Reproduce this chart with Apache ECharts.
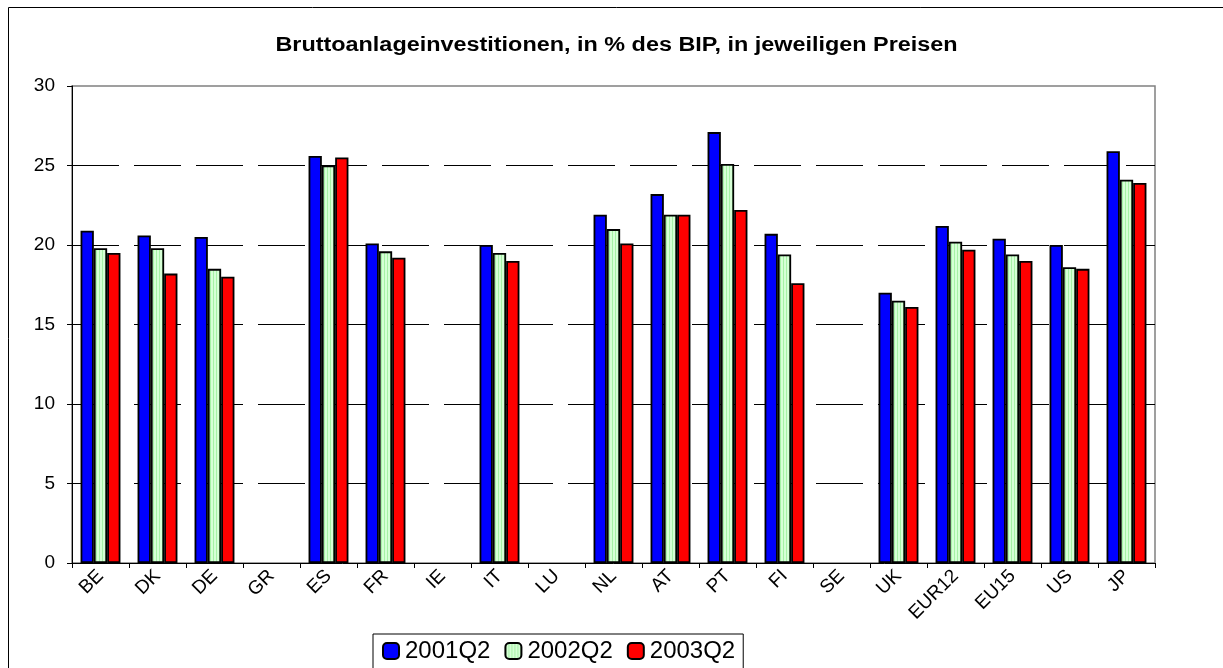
<!DOCTYPE html>
<html>
<head>
<meta charset="utf-8">
<script src="https://cdn.jsdelivr.net/npm/echarts@6/dist/echarts.min.js"></script>
<style>
html,body{margin:0;padding:0;background:#fff;}
#c{width:1223px;height:668px;}
</style>
</head>
<body>
<div id="c"></div>
<script>
const categories = ['BE','DK','DE','GR','ES','FR','IE','IT','LU','NL','AT','PT','FI','SE','UK','EUR12','EU15','US','JP'];
const seriesNames = ['2001Q2','2002Q2','2003Q2'];
const values2001 = [20.9,20.6,20.5,null,25.6,20.1,null,20.0,null,21.9,23.2,27.1,20.7,null,17.0,21.2,20.4,20.0,25.9];
const values2002 = [19.8,19.8,18.5,null,25.0,19.6,null,19.5,null,21.0,21.9,25.1,19.4,null,16.5,20.2,19.4,18.6,24.1];
const values2003 = [19.5,18.2,18.0,null,25.5,19.2,null,19.0,null,20.1,21.9,22.2,17.6,null,16.1,19.7,19.0,18.5,23.9];
const yTicks = [0,5,10,15,20,25,30];
const titleText = 'Bruttoanlageinvestitionen, in % des BIP, in jeweiligen Preisen';

// striped light-green pattern
const pc = document.createElement('canvas');
pc.width = 3; pc.height = 4;
const g = pc.getContext('2d');
g.fillStyle = '#d6ffd6'; g.fillRect(0,0,3,4);
g.fillStyle = '#a6f2a6'; g.fillRect(0,0,1,4);

const chart = echarts.init(document.getElementById('c'), null, {renderer:'canvas'});
const font = 'Arial, "Liberation Sans", sans-serif';
const barStyle = (c) => ({color:c, borderColor:'#000', borderWidth:1.8});

chart.setOption({
  backgroundColor:'#fff',
  animation:false,
  graphic:[
    {type:'rect', shape:{x:8.5,y:7.5,width:1400,height:800}, style:{fill:null, stroke:'#000', lineWidth:1}, silent:true, z:100},
    {type:'text', x:616.5, y:45, scaleX:1.17, scaleY:1, silent:true,
     style:{text:titleText, textAlign:'center', textVerticalAlign:'middle', fill:'#000',
            font:'bold 20px Arial, "Liberation Sans", sans-serif'}}
  ],
  legend:{
    left:373, top:634,
    data:seriesNames,
    itemWidth:16, itemHeight:16, itemGap:14,
    borderColor:'#000', borderWidth:1,
    padding:[5,8,6,9],
    textStyle:{fontFamily:font, fontSize:24, color:'#000', padding:[0,0,0,1]}
  },
  grid:{left:72, right:68, top:86, bottom:105, show:true, borderColor:'#808080', borderWidth:1.5},
  xAxis:{
    type:'category', data:categories,
    axisLine:{lineStyle:{color:'#000', width:1}},
    axisTick:{show:true, length:5, alignWithLabel:false, lineStyle:{color:'#000'}},
    axisLabel:{rotate:45, fontFamily:font, fontSize:19, color:'#000', margin:10, interval:0},
    splitLine:{show:false}
  },
  yAxis:{
    type:'value', min:yTicks[0], max:yTicks[yTicks.length-1], interval:5,
    axisLine:{show:true, lineStyle:{color:'#000', width:1}},
    axisTick:{show:true, length:5, lineStyle:{color:'#000'}},
    axisLabel:{fontFamily:font, fontSize:19, color:'#000', margin:17},
    splitLine:{show:true, showMaxLine:false, showMinLine:false, lineStyle:{color:'#000', width:1, type:[47,15], dashOffset:0}}
  },
  series:[
    {name:seriesNames[0], type:'bar', data:values2001, barGap:'0%', barCategoryGap:'30%', itemStyle:barStyle('#0000ff')},
    {name:seriesNames[1], type:'bar', data:values2002, barGap:'0%', barCategoryGap:'30%', itemStyle:barStyle({image:pc, repeat:'repeat'})},
    {name:seriesNames[2], type:'bar', data:values2003, barGap:'0%', barCategoryGap:'30%', itemStyle:barStyle('#ff0000')}
  ]
});
</script>
</body>
</html>
